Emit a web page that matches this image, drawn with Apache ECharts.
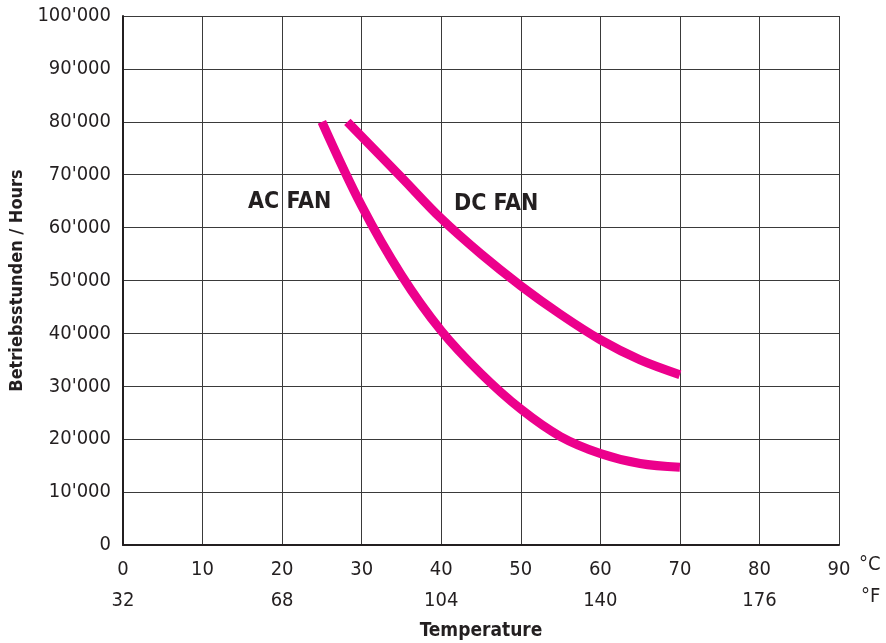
<!DOCTYPE html>
<html><head><meta charset="utf-8">
<script src="https://cdn.jsdelivr.net/npm/echarts@6/dist/echarts.min.js"></script>
<style>html,body{margin:0;padding:0;background:#fff}#c{width:886px;height:643px}</style>
</head><body><div id="c"></div>
<script>
var FONT = '"Liberation Sans Narrow","DejaVu Sans Condensed",sans-serif';
var celsiusTicks = [0,10,20,30,40,50,60,70,80,90];
var fahrenheitLabels = {0:'32',20:'68',40:'104',60:'140',80:'176'};
var hoursTicks = [0,10000,20000,30000,40000,50000,60000,70000,80000,90000,100000];
var acFan = [[25,80000],[30,64100],[35,51000],[40,40500],[45,32400],[50,25700],[55,20500],[60,17300],[65,15400],[70,14700]];
var dcFan = [[28.2,80000],[35,69500],[40,61700],[45,55000],[50,49000],[55,43600],[60,38800],[65,35000],[70,32200]];
var seriesNames = ['AC FAN','DC FAN'];
var axisNames = {x:'Temperature', y:'Betriebsstunden / Hours', c:'°C', f:'°F'};

var chart = echarts.init(document.getElementById('c'));
var magenta = '#EC008C';
chart.setOption({
  animation:false,
  grid:{left:123,right:47,top:16,bottom:98,containLabel:false,outerBoundsMode:'none'},
  xAxis:{type:'value',min:0,max:90,interval:10,
    axisLine:{show:true,onZero:false,lineStyle:{color:'#231f20',width:2}},
    axisTick:{show:false},
    splitLine:{show:true,lineStyle:{color:'#3a3a3a',width:1}},
    axisLabel:{margin:9,fontFamily:FONT,fontSize:20,color:'#231f20',lineHeight:31,
      formatter:function(v){return v+'\n'+(fahrenheitLabels[v]||' ');}},
    name:axisNames.x,nameLocation:'middle',nameGap:77,
    nameTextStyle:{fontFamily:FONT,fontSize:19,fontWeight:'bold',color:'#231f20'}
  },
  yAxis:{type:'value',min:0,max:100000,interval:10000,
    axisLine:{show:true,lineStyle:{color:'#231f20',width:2}},
    axisTick:{show:false},
    splitLine:{show:true,lineStyle:{color:'#3a3a3a',width:1}},
    axisLabel:{margin:12,fontFamily:FONT,fontSize:20,color:'#231f20',
      formatter:function(v){return v===0?'0':(v/1000)+"'000";}},
    name:axisNames.y,nameLocation:'middle',nameGap:95,
    nameTextStyle:{fontFamily:FONT,fontSize:18,fontWeight:'bold',color:'#231f20'}
  },
  series:[
    {name:seriesNames[0],type:'line',data:acFan,smooth:0.35,showSymbol:false,
     lineStyle:{color:magenta,width:9,cap:'butt'}},
    {name:seriesNames[1],type:'line',data:dcFan,smooth:0.35,showSymbol:false,
     lineStyle:{color:magenta,width:9,cap:'butt'}}
  ],
  graphic:[
    {type:'text',left:248,top:191,style:{text:seriesNames[0],font:'bold 23px '+FONT,fill:'#231f20'}},
    {type:'text',left:454,top:193,style:{text:seriesNames[1],font:'bold 23px '+FONT,fill:'#231f20'}},
    {type:'text',left:859,top:555,style:{text:axisNames.c,font:'20px '+FONT,fill:'#231f20'}},
    {type:'text',left:861,top:587,style:{text:axisNames.f,font:'20px '+FONT,fill:'#231f20'}}
  ]
});
</script></body></html>
